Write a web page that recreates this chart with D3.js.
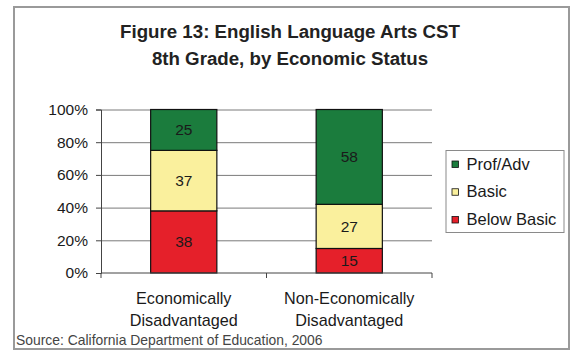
<!DOCTYPE html>
<html>
<head>
<meta charset="utf-8">
<script src="https://cdn.jsdelivr.net/npm/d3@7"></script>
<style>
  html, body { margin: 0; padding: 0; background: #fff; }
  svg { display: block; font-family: "Liberation Sans", Arial, Helvetica, sans-serif; }
</style>
</head>
<body>
<svg id="chart" width="574" height="350"></svg>
<script>
// Chart data
const categories = [["Economically", "Disadvantaged"], ["Non-Economically", "Disadvantaged"]];
const seriesNames = ["Below Basic", "Basic", "Prof/Adv"];
const belowBasic = [38, 15];
const basic = [37, 27];
const profAdv = [25, 58];
const yTicks = [0, 20, 40, 60, 80, 100];
const titleLines = ["Figure 13: English Language Arts CST", "8th Grade, by Economic Status"];
const sourceText = "Source: California Department of Education, 2006";

const colors = { "Below Basic": "#e5202a", "Basic": "#faf09d", "Prof/Adv": "#1b7c3d" };

const svg = d3.select("#chart");

// Outer frame
svg.append("rect")
  .attr("x", 14).attr("y", 7).attr("width", 555).attr("height", 342)
  .attr("fill", "#fff").attr("stroke", "#9a9a9a").attr("stroke-width", 2);

// Title
svg.append("g").selectAll("text").data(titleLines).join("text")
  .attr("x", 290).attr("y", (d, i) => 37.5 + i * 27.5)
  .attr("text-anchor", "middle")
  .attr("font-size", 18.7).attr("font-weight", "bold").attr("fill", "#222")
  .text(d => d);

const plot = { left: 101, right: 432, top: 109.5, bottom: 273 };

const keys = categories.map(c => c.join(" "));
const x = d3.scaleBand().domain(keys).range([plot.left, plot.right])
  .paddingInner(0.6).paddingOuter(0.3);
const xTick = d3.scaleBand().domain(keys).range([plot.left, plot.right]);
const y = d3.scaleLinear().domain([0, 100]).range([plot.bottom, plot.top]);

// Gridlines
svg.append("g")
  .attr("transform", `translate(${plot.left},0)`)
  .call(d3.axisLeft(y).tickValues(yTicks.slice(1)).tickSize(-(plot.right - plot.left)).tickFormat(""))
  .call(g => g.select(".domain").remove())
  .call(g => g.selectAll("line").attr("stroke", "#7a7a7a").attr("stroke-width", 1));

// Stacked bars
const rows = keys.map((k, i) => ({
  key: k,
  "Below Basic": belowBasic[i],
  "Basic": basic[i],
  "Prof/Adv": profAdv[i]
}));
const stacked = d3.stack().keys(seriesNames)(rows);

const layers = svg.append("g").selectAll("g").data(stacked).join("g")
  .attr("fill", d => colors[d.key]);

layers.selectAll("rect").data(d => d).join("rect")
  .attr("x", d => x(d.data.key))
  .attr("y", d => y(d[1]))
  .attr("width", x.bandwidth())
  .attr("height", d => y(d[0]) - y(d[1]))
  .attr("stroke", "#111").attr("stroke-width", 1.2);

layers.selectAll("text").data(d => d).join("text")
  .attr("x", d => x(d.data.key) + x.bandwidth() / 2)
  .attr("y", d => (y(d[0]) + y(d[1])) / 2 + 5.5)
  .attr("text-anchor", "middle")
  .attr("font-size", 15.5)
  .attr("fill", "#1a1a1a")
  .text(d => d[1] - d[0]);

// Y axis
svg.append("g")
  .attr("transform", `translate(${plot.left},0)`)
  .call(d3.axisLeft(y).tickValues(yTicks).tickSize(5).tickPadding(8).tickFormat(d => d + "%"))
  .call(g => g.select(".domain").attr("stroke", "#444"))
  .call(g => g.selectAll("line").attr("stroke", "#444"))
  .call(g => g.selectAll("text").attr("font-size", 15.5).attr("fill", "#1a1a1a")
    .attr("font-family", "Liberation Sans, Arial, sans-serif"));

// X axis line with ticks at category boundaries
const xAxisG = svg.append("g");
xAxisG.append("line")
  .attr("x1", plot.left).attr("x2", plot.right)
  .attr("y1", plot.bottom).attr("y2", plot.bottom)
  .attr("stroke", "#444");
const boundaries = [plot.left].concat(keys.map(k => xTick(k) + xTick.bandwidth()));
xAxisG.selectAll("line.tick").data(boundaries).join("line")
  .attr("class", "tick")
  .attr("x1", d => d).attr("x2", d => d)
  .attr("y1", plot.bottom).attr("y2", plot.bottom + 5)
  .attr("stroke", "#444");

// Category labels
const catG = svg.append("g").selectAll("text").data(categories).join("text")
  .attr("text-anchor", "middle")
  .attr("font-size", 16.2)
  .attr("fill", "#1a1a1a");
catG.selectAll("tspan").data((d, i) => d.map(line => ({ line, key: keys[i] }))).join("tspan")
  .attr("x", d => xTick(d.key) + xTick.bandwidth() / 2)
  .attr("y", (d, j) => 303.5 + j * 22)
  .text(d => d.line);

// Legend
const legend = svg.append("g");
legend.append("rect")
  .attr("x", 446).attr("y", 150.5).attr("width", 118).attr("height", 82)
  .attr("fill", "#fff").attr("stroke", "#8a8a8a").attr("stroke-width", 1);
const legendOrder = ["Prof/Adv", "Basic", "Below Basic"];
const legendY = d3.scalePoint().domain(legendOrder).range([164, 219.5]);
const items = legend.selectAll("g.item").data(legendOrder).join("g").attr("class", "item");
items.append("rect")
  .attr("x", 452).attr("y", d => legendY(d) - 3)
  .attr("width", 6.5).attr("height", 6.5)
  .attr("fill", d => colors[d]).attr("stroke", "#111").attr("stroke-width", 0.8);
items.append("text")
  .attr("x", 466.5).attr("y", d => legendY(d) + 5.5)
  .attr("font-size", 16.5).attr("fill", "#1a1a1a")
  .text(d => d);

// Source note
svg.append("text")
  .attr("x", 16).attr("y", 344.5)
  .attr("font-size", 13.9).attr("fill", "#444")
  .text(sourceText);
</script>
</body>
</html>
